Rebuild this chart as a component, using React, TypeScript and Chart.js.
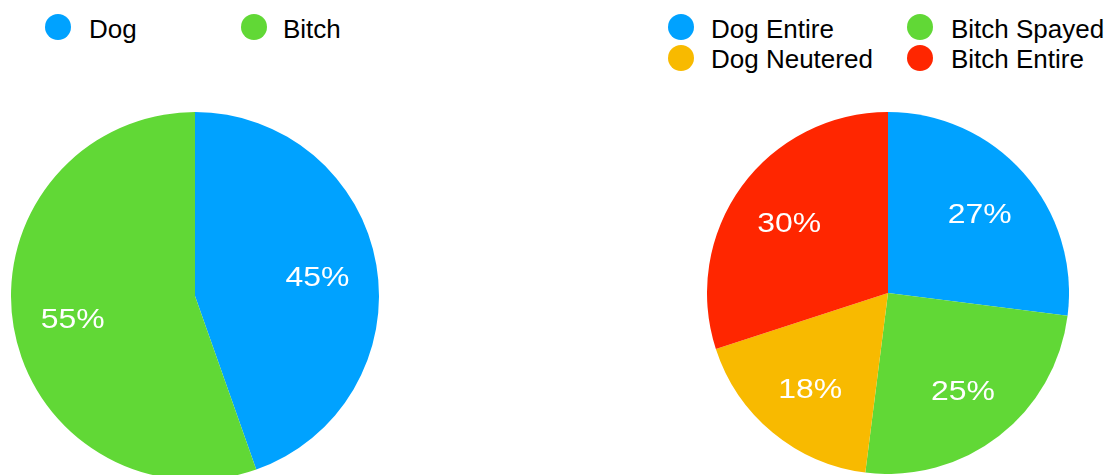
import React, { useEffect, useRef } from "react";
import { Chart, registerables } from "chart.js";

Chart.register(...registerables);

// ---- Data ----
const sexLabels = ["Dog", "Bitch"];
const sexValues = [44.6, 55.4];
const sexColors = ["#00A2FF", "#61D836"];

const statusLabels = ["Dog Entire", "Bitch Spayed", "Dog Neutered", "Bitch Entire"];
const statusValues = [27, 25, 18, 30];
const statusColors = ["#00A2FF", "#61D836", "#F8BA00", "#FF2600"];

const FONT = "'Liberation Sans', Arial, Helvetica, sans-serif";

const pctLabelPlugin = {
  id: "pctLabels",
  afterDatasetsDraw(chart: any) {
    const ctx = chart.ctx;
    const ds = chart.data.datasets[0];
    const data = ds.data as number[];
    const total = data.reduce((a, b) => a + b, 0);
    const meta = chart.getDatasetMeta(0);
    meta.data.forEach((arc: any, i: number) => {
      const { x, y, startAngle, endAngle, outerRadius } = arc.getProps(
        ["x", "y", "startAngle", "endAngle", "outerRadius"],
        true
      );
      const mid = (startAngle + endAngle) / 2;
      const r = outerRadius * 0.675;
      const px = x + Math.cos(mid) * r;
      const py = y + Math.sin(mid) * r;
      ctx.save();
      ctx.translate(px, py);
      ctx.scale(1.14, 1);
      ctx.font = `28px ${FONT}`;
      ctx.fillStyle = "#ffffff";
      ctx.textAlign = "center";
      ctx.textBaseline = "middle";
      ctx.fillText(Math.round((data[i] / total) * 100) + "%", 0, 3);
      ctx.restore();
    });
  },
};

function PieChart(props: {
  labels: string[];
  values: number[];
  colors: string[];
  left: number;
  top: number;
  size: number;
}) {
  const ref = useRef<HTMLCanvasElement | null>(null);
  useEffect(() => {
    if (!ref.current) return;
    const chart = new Chart(ref.current, {
      type: "pie",
      data: {
        labels: props.labels,
        datasets: [
          {
            data: props.values,
            backgroundColor: props.colors,
            borderWidth: 0,
          },
        ],
      },
      options: {
        responsive: false,
        animation: false,
        layout: { padding: 0 },
        plugins: {
          legend: { display: false },
          tooltip: { enabled: false },
        },
      },
      plugins: [pctLabelPlugin],
    } as any);
    return () => chart.destroy();
  }, []);
  return (
    <canvas
      ref={ref}
      width={props.size}
      height={props.size}
      style={{ position: "absolute", left: props.left, top: props.top }}
    />
  );
}

function LegendItem(props: {
  label: string;
  color: string;
  cx: number;
  cy: number;
  tx: number;
  baseline: number;
}) {
  return (
    <>
      <div
        style={{
          position: "absolute",
          left: props.cx - 13,
          top: props.cy - 13,
          width: 26,
          height: 26,
          borderRadius: "50%",
          background: props.color,
        }}
      />
      <div
        style={{
          position: "absolute",
          left: props.tx,
          top: props.baseline - 22,
          fontFamily: FONT,
          fontSize: 26,
          lineHeight: "26px",
          color: "#000",
          whiteSpace: "nowrap",
        }}
      >
        {props.label}
      </div>
    </>
  );
}

export default function App() {
  const leftCols = [
    { cx: 58, tx: 89 },
    { cx: 254, tx: 283 },
  ];
  const rightCols = [
    { cx: 680.5, tx: 711 },
    { cx: 919.5, tx: 951 },
  ];
  const rightRows = [
    { cy: 27, baseline: 38 },
    { cy: 57.5, baseline: 67.5 },
  ];
  return (
    <div
      style={{
        position: "absolute",
        left: 0,
        top: 0,
        width: 1113,
        height: 475,
        overflow: "hidden",
        background: "#fff",
      }}
    >
      {sexLabels.map((l, i) => (
        <LegendItem
          key={l}
          label={l}
          color={sexColors[i]}
          cx={leftCols[i].cx}
          cy={27}
          tx={leftCols[i].tx}
          baseline={38}
        />
      ))}
      {statusLabels.map((l, i) => (
        <LegendItem
          key={l}
          label={l}
          color={statusColors[i]}
          cx={rightCols[i % 2].cx}
          cy={rightRows[Math.floor(i / 2)].cy}
          tx={rightCols[i % 2].tx}
          baseline={rightRows[Math.floor(i / 2)].baseline}
        />
      ))}
      <PieChart labels={sexLabels} values={sexValues} colors={sexColors} left={11} top={112} size={368} />
      <PieChart labels={statusLabels} values={statusValues} colors={statusColors} left={707} top={112} size={362} />
    </div>
  );
}
